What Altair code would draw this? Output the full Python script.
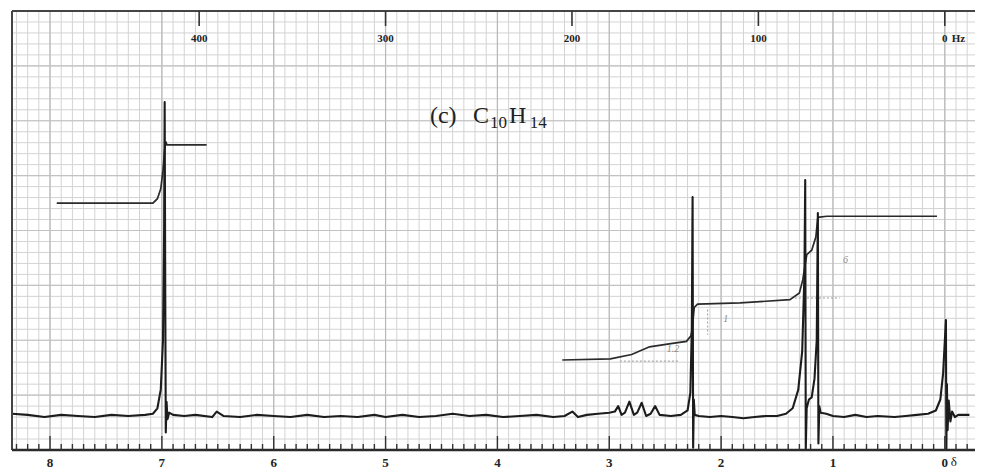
import altair as alt
import pandas as pd
import numpy as np

# ---------------- data ----------------
# spectrum trace: chemical shift (ppm) and pen height (grid units)
spec_ppm = [8.34, 8.20, 8.05, 7.90, 7.75, 7.60, 7.45, 7.30, 7.15, 7.08, 7.04, 7.01, 6.99, 6.98,
            6.975, 6.970, 6.965, 6.958, 6.950, 6.935, 6.90, 6.80, 6.70, 6.55, 6.51, 6.45, 6.30,
            6.15, 6.00, 5.85, 5.70, 5.55, 5.40, 5.25, 5.10, 5.00, 4.85, 4.70, 4.55, 4.40, 4.25,
            4.10, 3.95, 3.80, 3.65, 3.50, 3.40, 3.33, 3.28, 3.20, 3.10, 3.00, 2.95, 2.92, 2.89,
            2.86, 2.82, 2.78, 2.75, 2.71, 2.67, 2.63, 2.59, 2.55, 2.45, 2.36, 2.30, 2.275, 2.262,
            2.255, 2.250, 2.244, 2.236, 2.20, 2.10, 2.00, 1.90, 1.80, 1.70, 1.60, 1.50, 1.42,
            1.36, 1.31, 1.275, 1.255, 1.248, 1.243, 1.235, 1.215, 1.19, 1.165, 1.145, 1.135,
            1.130, 1.122, 1.11, 1.06, 1.00, 0.90, 0.80, 0.70, 0.60, 0.45, 0.35, 0.25, 0.15,
            0.08, 0.04, 0.015, -0.010, -0.014, -0.019, -0.025, -0.035, -0.05, -0.065, -0.09,
            -0.12, -0.22]
spec_int = [3.3, 3.2, 3.0, 3.2, 3.1, 3.0, 3.2, 3.1, 3.2, 3.3, 3.8, 5.5, 10, 20,
            31.7, 15, 1.6, 4.4, 2.8, 3.4, 3.2, 3.1, 3.2, 3.0, 3.5, 3.1, 3.0,
            3.2, 3.1, 3.0, 3.2, 3.0, 3.1, 3.0, 3.2, 3.0, 3.2, 3.0, 3.1, 3.3, 3.1,
            3.2, 3.0, 3.1, 3.2, 3.0, 3.1, 3.5, 3.0, 3.2, 3.3, 3.4, 3.5, 4.0, 3.2,
            3.4, 4.4, 3.2, 3.4, 4.3, 3.1, 3.3, 4.0, 3.2, 3.1, 3.2, 3.6, 5.2, 11,
            23.05, 0.2, 4.6, 3.2, 3.1, 3.0, 3.1, 3.0, 2.9, 3.0, 3.1, 3.1, 3.3,
            3.8, 5.5, 9, 16, 24.6, 0.1, 3.8, 4.6, 4.8, 6.5, 10, 21.6,
            0.6, 4.0, 3.4, 3.3, 3.1, 3.0, 3.2, 3.0, 3.1, 3.0, 3.1, 3.2, 3.3,
            3.6, 4.6, 7, 11.85, 0.1, 6, 1.8, 4.5, 2.6, 3.5, 3.0,
            3.2, 3.2]

# integral traces
arom_ppm = [7.94, 7.08, 7.04, 7.01, 6.99, 6.975, 6.965, 6.955, 6.60]
arom_int = [22.5, 22.5, 22.9, 23.8, 25.5, 27.4, 28.1, 27.8, 27.8]
aliph_ppm = [3.42, 2.99, 2.80, 2.64, 2.45, 2.31, 2.27, 2.26, 2.24, 2.21, 1.83, 1.385,
             1.30, 1.27, 1.234, 1.19, 1.153, 1.135, 1.055, 0.07]
aliph_int = [8.2, 8.3, 8.7, 9.4, 9.7, 9.9, 10.4, 10.9, 13.0, 13.3, 13.4, 13.7,
             14.3, 15.5, 17.8, 18.2, 19.4, 21.2, 21.3, 21.3]

# faint pencil annotations
note_seg = ["a", "a", "b", "b", "c", "c"]
note_ppm = [2.905, 2.37, 2.12, 2.12, 1.34, 0.94]
note_int = [8.1, 8.1, 12.8, 10.5, 13.85, 13.85]
note_text = ["1.2", "1", "6"]
note_tppm = [2.485, 1.98, 0.91]
note_tint = [8.9, 11.7, 17.0]

# axes
ppm_labels = [8, 7, 6, 5, 4, 3, 2, 1, 0]
hz_labels = [400, 300, 200, 100, 0]
spectrometer_mhz = 60

# title pieces
title_text = ["(c)", "C", "10", "H", "14"]
title_ppm = [4.603, 4.219, 4.067, 3.897, 3.71]
title_int = [29.8, 29.8, 29.34, 29.8, 29.34]
title_size = [24, 24, 17, 24, 17]

# ---------------- chart ----------------
W, H = 963, 439
xs = alt.Scale(domain=[-0.27, 8.34], reverse=True, nice=False, zero=False)
ys = alt.Scale(domain=[0, 40], nice=False, zero=False)
X = lambda f: alt.X(f, type="quantitative", scale=xs, axis=None)
Y = lambda f: alt.Y(f, type="quantitative", scale=ys, axis=None)

minor_x = [round(v * 0.1, 2) for v in range(-2, 84)]
major_x = [v for v in minor_x if abs(v - round(v)) < 1e-9]
grid_y = list(range(1, 40))
major_y = [v for v in grid_y if v % 5 == 0]
tick_minor = [v for v in minor_x if v >= -0.2 and abs(v - round(v)) > 1e-9]

gx = alt.Chart(pd.DataFrame({"p": minor_x})).mark_rule(color="#d3d3d3", strokeWidth=1).encode(
    x=X("p"), y=alt.value(0), y2=alt.value(H))
gxm = alt.Chart(pd.DataFrame({"p": major_x})).mark_rule(color="#b8b8b8", strokeWidth=1.2).encode(
    x=X("p"), y=alt.value(0), y2=alt.value(H))
gy = alt.Chart(pd.DataFrame({"v": grid_y})).mark_rule(color="#d3d3d3", strokeWidth=1).encode(
    y=Y("v"), x=alt.value(0), x2=alt.value(W))
gym = alt.Chart(pd.DataFrame({"v": major_y})).mark_rule(color="#c2c2c2", strokeWidth=1.1).encode(
    y=Y("v"), x=alt.value(0), x2=alt.value(W))

spec = alt.Chart(pd.DataFrame({"p": spec_ppm, "v": spec_int, "o": range(len(spec_ppm))})).mark_line(
    color="#1c1c1c", strokeWidth=2.1, strokeJoin="round").encode(x=X("p"), y=Y("v"), order="o:Q")

integ_df = pd.DataFrame({
    "p": arom_ppm + aliph_ppm,
    "v": arom_int + aliph_int,
    "seg": ["arom"] * len(arom_ppm) + ["aliph"] * len(aliph_ppm),
    "o": list(range(len(arom_ppm))) + list(range(len(aliph_ppm))),
})
integ = alt.Chart(integ_df).mark_line(color="#2a2a2a", strokeWidth=1.7).encode(
    x=X("p"), y=Y("v"), detail="seg:N", order="o:Q")

notes = alt.Chart(pd.DataFrame({"p": note_ppm, "v": note_int, "seg": note_seg})).mark_line(
    color="#9a9a9a", strokeWidth=1, strokeDash=[2, 2]).encode(x=X("p"), y=Y("v"), detail="seg:N")
notes_t = alt.Chart(pd.DataFrame({"p": note_tppm, "v": note_tint, "t": note_text})).mark_text(
    color="#8a8a8a", fontSize=10, font="Liberation Serif", fontStyle="italic", align="left",
    baseline="alphabetic").encode(x=X("p"), y=Y("v"), text="t:N")

title = alt.Chart(pd.DataFrame({"p": title_ppm, "v": title_int, "t": title_text, "s": title_size})).mark_text(
    color="#222", font="Liberation Serif", align="left", baseline="alphabetic").encode(
    x=X("p"), y=Y("v"), text="t:N", size=alt.Size("s:Q", scale=None, legend=None))

one = pd.DataFrame({"a": [0]})
frame_top = alt.Chart(one).mark_rule(color="#444", strokeWidth=2).encode(
    x=alt.value(0), x2=alt.value(W + 8), y=alt.value(0))
frame_left = alt.Chart(one).mark_rule(color="#444", strokeWidth=2).encode(
    x=alt.value(0), y=alt.value(0), y2=alt.value(H))
frame_bot = alt.Chart(one).mark_rule(color="#2a2a2a", strokeWidth=2.5).encode(
    x=alt.value(0), x2=alt.value(W + 8), y=alt.value(H))

bt_minor = alt.Chart(pd.DataFrame({"p": tick_minor})).mark_rule(color="#333", strokeWidth=1.4).encode(
    x=X("p"), y=alt.value(H), y2=alt.value(H - 6))
bt_major = alt.Chart(pd.DataFrame({"p": ppm_labels})).mark_rule(color="#333", strokeWidth=1.4).encode(
    x=X("p"), y=alt.value(H), y2=alt.value(H - 14))
bl = alt.Chart(pd.DataFrame({"p": ppm_labels, "t": [str(v) for v in ppm_labels]})).mark_text(
    color="#222", font="Liberation Serif", fontSize=13, fontWeight="bold", baseline="middle").encode(
    x=X("p"), y=alt.value(H + 13), text="t:N")
delta = alt.Chart(pd.DataFrame({"p": [0], "t": ["δ"]})).mark_text(
    color="#222", font="Liberation Serif", fontSize=13, align="left", dx=6, baseline="middle").encode(
    x=X("p"), y=alt.value(H + 12), text="t:N")

hz_ppm = [h / spectrometer_mhz for h in hz_labels]
tt = alt.Chart(pd.DataFrame({"p": hz_ppm})).mark_rule(color="#333", strokeWidth=1.6).encode(
    x=X("p"), y=alt.value(0), y2=alt.value(15))
tl = alt.Chart(pd.DataFrame({"p": hz_ppm, "t": [str(h) for h in hz_labels]})).mark_text(
    color="#222", font="Liberation Serif", fontSize=11, fontWeight="bold", baseline="middle").encode(
    x=X("p"), y=alt.value(28), text="t:N")
hz = alt.Chart(pd.DataFrame({"p": [0], "t": ["Hz"]})).mark_text(
    color="#222", font="Liberation Serif", fontSize=11, fontWeight="bold", align="left", dx=7,
    baseline="middle").encode(x=X("p"), y=alt.value(28), text="t:N")

chart = alt.layer(
    gx, gy, gxm, gym, notes, notes_t, integ, spec, title,
    frame_top, frame_left, frame_bot, bt_minor, bt_major, bl, delta, tt, tl, hz
).properties(
    width=W, height=H,
    autosize=alt.AutoSizeParams(type="none"),
    padding={"left": 4, "top": 3, "right": 0, "bottom": 22},
    background="white",
).configure_view(stroke=None)

chart.save("out.html", embed_options={"renderer": "svg", "actions": False})
